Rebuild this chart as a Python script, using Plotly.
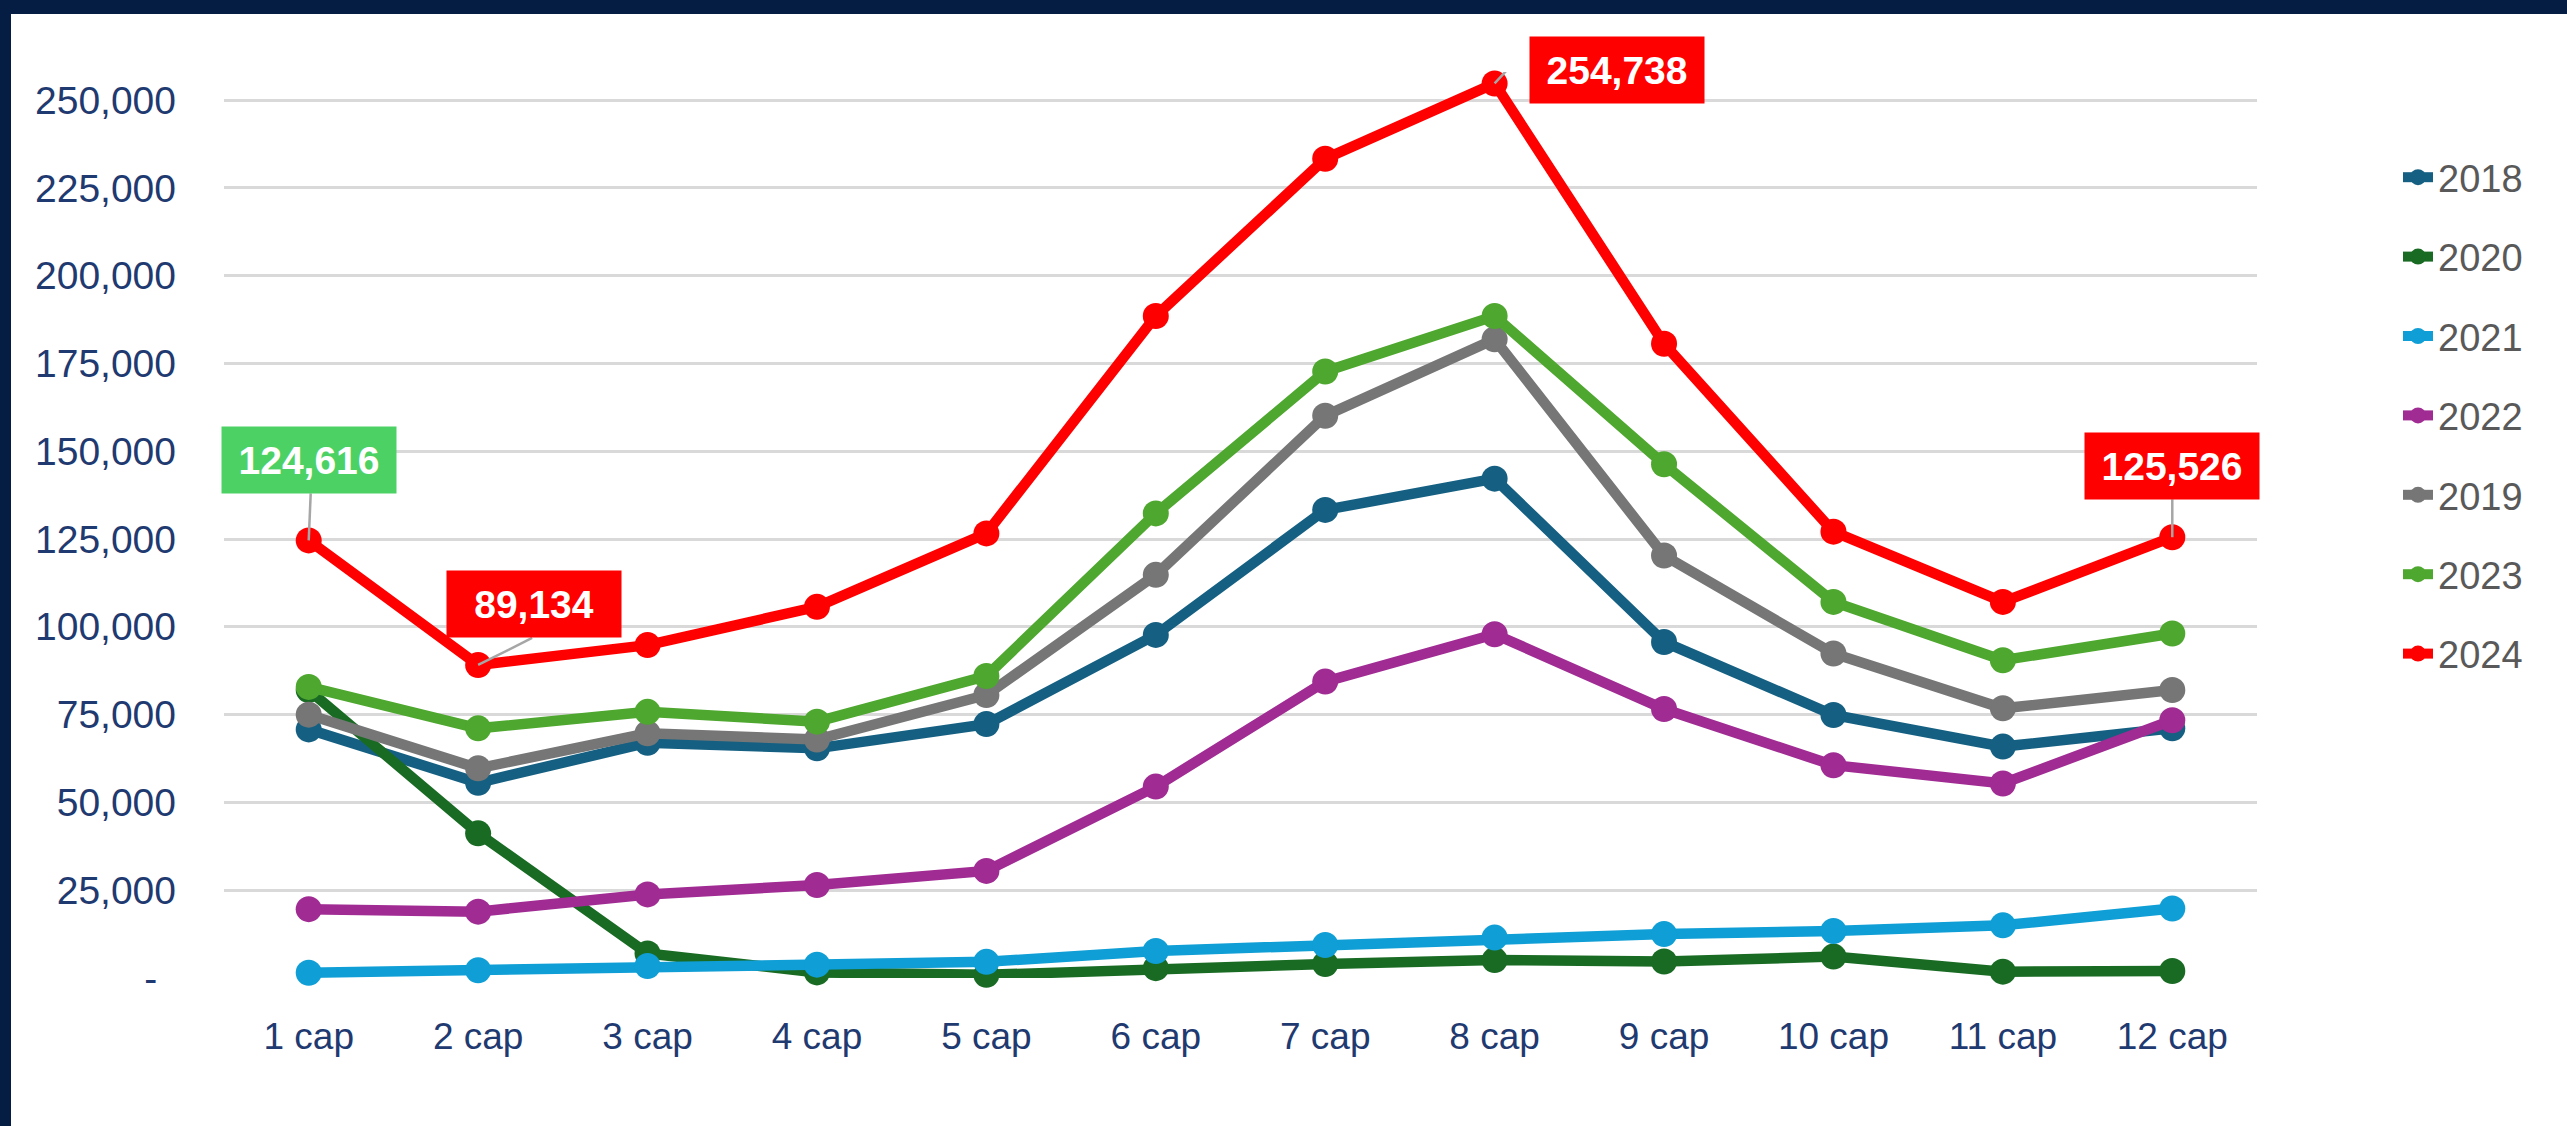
import plotly.graph_objects as go

# ---------------- data ----------------
categories = ["1 cap", "2 cap", "3 cap", "4 cap", "5 cap", "6 cap",
              "7 cap", "8 cap", "9 cap", "10 cap", "11 cap", "12 cap"]

years = ["2018", "2020", "2021", "2022", "2019", "2023", "2024"]

v2018 = [70800, 55600, 67000, 65400, 72300, 97700, 133300, 142200, 95700, 74900, 65900, 71100]
v2020 = [82000, 41200, 7000, 1600, 900, 2800, 4000, 5100, 4700, 6100, 1800, 2000]
v2021 = [1500, 2200, 3400, 3800, 4600, 7700, 9400, 11500, 12500, 13400, 15000, 19800]
v2022 = [19600, 18900, 23800, 26500, 30500, 54500, 84400, 97900, 76600, 60600, 55400, 73400]
v2019 = [75000, 59700, 69700, 67900, 80600, 114800, 160100, 181900, 120300, 92400, 76800, 82000]
v2023 = [82900, 71100, 75800, 73000, 86000, 132300, 172700, 188500, 146300, 107100, 90500, 98100]
v2024 = [124616, 89134, 94800, 105700, 126600, 188500, 233300, 254738, 180600, 127100, 107100, 125526]

series_values = [v2018, v2020, v2021, v2022, v2019, v2023, v2024]

ytick_vals = [0, 25000, 50000, 75000, 100000, 125000, 150000, 175000, 200000, 225000, 250000]
ytick_text = ["-\u00a0\u2009", "25,000", "50,000", "75,000", "100,000", "125,000",
              "150,000", "175,000", "200,000", "225,000", "250,000"]

# labelled points of the 2024 series (category index)
label_idx = [0, 1, 7, 11]

# ---------------- styles ----------------
colors = ["#156082", "#196B24", "#0F9ED5", "#A02B93", "#767676", "#4EA72E", "#FF0000"]
label_bg = ["#4CD264", "#FF0000", "#FF0000", "#FF0000"]
label_shift = [(0, 80), (56, 61), (122, 13.5), (0, 71)]
leader_paths = ["M0,0 L2,47", "M0,0 L54,27", "M0,0 L12,13 L35,13", "M0,0 L0,38"]

W, H = 2567, 1126
L, R, T, B = 224, 310, 72, 148
NAVY = "#051D42"
TICK_COLOR = "#1F3A70"
FONT = "Liberation Sans, Arial, sans-serif"

fig = go.Figure()
for name, vals, col in zip(years, series_values, colors):
    fig.add_trace(go.Scatter(
        x=categories, y=vals, name=name, mode="lines+markers",
        legendgroup=name,
        line=dict(color=col, width=10.5),
        marker=dict(color=col, size=26, symbol="circle"),
        cliponaxis=False,
    ))

# data labels for 2024
red = series_values[-1]
for k, i in enumerate(label_idx):
    dx, dy = label_shift[k]
    fig.add_shape(type="path", xref="x", yref="y",
                  xsizemode="pixel", ysizemode="pixel",
                  xanchor=categories[i], yanchor=red[i],
                  path=leader_paths[k],
                  line=dict(color="#A6A6A6", width=2.5))
    fig.add_annotation(x=categories[i], y=red[i], xref="x", yref="y",
                       text=f"{red[i]:,}", showarrow=False,
                       xshift=dx, yshift=dy,
                       font=dict(family=FONT, size=39, color="white", weight="bold"),
                       bgcolor=label_bg[k], borderpad=12, width=150, height=42,
                       align="center", valign="middle")

# navy page frame (top and left bands)
pw = W - L - R
ph = H - T - B
def px_x(p):
    return (p - L) / pw
def px_y(p):
    return (H - B - p) / ph
fig.add_shape(type="rect", xref="paper", yref="paper",
              x0=px_x(-5), x1=px_x(W + 5), y0=px_y(14), y1=px_y(-5),
              fillcolor=NAVY, line=dict(width=0), layer="above")
fig.add_shape(type="rect", xref="paper", yref="paper",
              x0=px_x(-5), x1=px_x(11), y0=px_y(H + 5), y1=px_y(-5),
              fillcolor=NAVY, line=dict(width=0), layer="above")

fig.update_layout(
    width=W, height=H,
    margin=dict(l=L, r=R, t=T, b=B, autoexpand=False),
    paper_bgcolor="white", plot_bgcolor="white",
    font=dict(family=FONT, size=37, color=TICK_COLOR),
    showlegend=True,
    legend=dict(
        x=px_x(2398), xanchor="left", y=px_y(146), yanchor="top",
        font=dict(family=FONT, size=38, color="#595959"),
        tracegroupgap=27, bgcolor="rgba(0,0,0,0)", itemwidth=30,
    ),
    xaxis=dict(
        type="category", range=[-0.5, 11.5], showgrid=False, zeroline=False,
        showline=False, ticks="", ticklabelstandoff=33,
        tickfont=dict(family=FONT, size=37, color=TICK_COLOR),
    ),
    yaxis=dict(
        range=[0, 258000], tickvals=ytick_vals, ticktext=ytick_text,
        showgrid=True, gridcolor="#D9D9D9", gridwidth=3,
        zeroline=False, showline=False, ticks="", ticklabelstandoff=47,
        tickfont=dict(family=FONT, size=39, color=TICK_COLOR),
    ),
    hovermode=False,
)

fig.write_html(
    "out.html",
    config={"displayModeBar": False, "staticPlot": True},
    post_script="document.body.style.margin='0';document.body.style.overflow='hidden';",
)
